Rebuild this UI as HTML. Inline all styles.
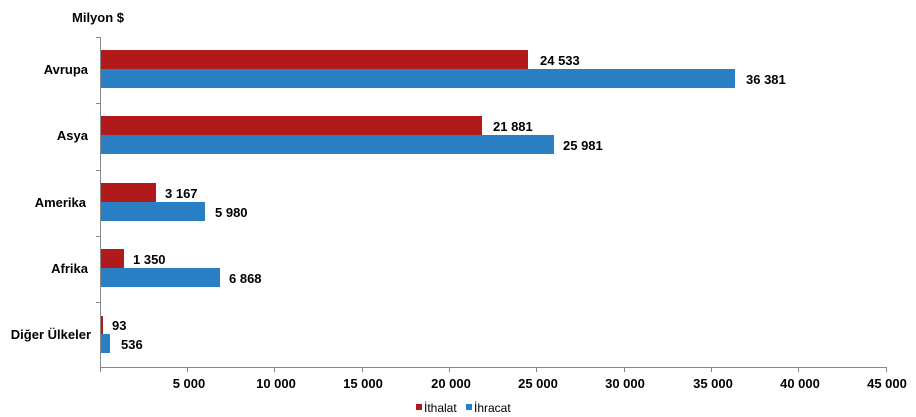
<!DOCTYPE html><html><head><meta charset="utf-8"><style>body{margin:0;background:#fff}svg{display:block}text{font-family:"Liberation Sans",Arial,sans-serif}</style></head><body>
<svg width="916" height="417" xmlns="http://www.w3.org/2000/svg">
<g font-weight="bold" font-size="13" fill="#000">
<text x="72" y="22">Milyon $</text>
<g text-anchor="end">
<text x="88" y="74">Avrupa</text>
<text x="88" y="140">Asya</text>
<text x="86" y="207">Amerika</text>
<text x="88" y="273">Afrika</text>
<text x="91" y="339">Diğer Ülkeler</text>
</g></g>
<g stroke="#888" stroke-width="1">
<line x1="100.5" y1="37" x2="100.5" y2="372"/>
<line x1="100" y1="367.5" x2="887" y2="367.5"/>
<line x1="96" y1="37.5" x2="100" y2="37.5"/>
<line x1="96" y1="103.5" x2="100" y2="103.5"/>
<line x1="96" y1="170.5" x2="100" y2="170.5"/>
<line x1="96" y1="236.5" x2="100" y2="236.5"/>
<line x1="96" y1="302.5" x2="100" y2="302.5"/>
<line x1="187.5" y1="367" x2="187.5" y2="372"/>
<line x1="274.5" y1="367" x2="274.5" y2="372"/>
<line x1="362.5" y1="367" x2="362.5" y2="372"/>
<line x1="449.5" y1="367" x2="449.5" y2="372"/>
<line x1="536.5" y1="367" x2="536.5" y2="372"/>
<line x1="624.5" y1="367" x2="624.5" y2="372"/>
<line x1="711.5" y1="367" x2="711.5" y2="372"/>
<line x1="798.5" y1="367" x2="798.5" y2="372"/>
<line x1="886.5" y1="367" x2="886.5" y2="372"/>
</g>
<g fill="#B01A1A">
<rect x="101" y="50" width="427" height="19"/>
<rect x="101" y="116" width="381" height="19"/>
<rect x="101" y="183" width="55" height="19"/>
<rect x="101" y="249" width="23" height="19"/>
<rect x="101" y="316" width="2" height="18"/>
</g>
<g fill="#2A7FC4">
<rect x="101" y="69" width="634" height="19"/>
<rect x="101" y="135" width="453" height="19"/>
<rect x="101" y="202" width="104" height="19"/>
<rect x="101" y="268" width="119" height="19"/>
<rect x="101" y="334" width="9" height="19"/>
</g>
<g font-weight="bold" font-size="13" fill="#000">
<text x="540" y="65">24 533</text>
<text x="746" y="84">36 381</text>
<text x="493" y="131">21 881</text>
<text x="563" y="150">25 981</text>
<text x="165" y="198">3 167</text>
<text x="215" y="217">5 980</text>
<text x="133" y="264">1 350</text>
<text x="229" y="283">6 868</text>
<text x="112" y="330">93</text>
<text x="121" y="349">536</text>
<g text-anchor="middle">
<text x="189" y="388">5 000</text>
<text x="276" y="388">10 000</text>
<text x="363" y="388">15 000</text>
<text x="451" y="388">20 000</text>
<text x="538" y="388">25 000</text>
<text x="625" y="388">30 000</text>
<text x="713" y="388">35 000</text>
<text x="800" y="388">40 000</text>
<text x="887" y="388">45 000</text>
</g></g>
<rect x="416" y="404" width="6" height="6" fill="#B01A1A"/>
<text x="424" y="412" font-size="12">İthalat</text>
<rect x="466" y="404" width="6" height="6" fill="#2A7FC4"/>
<text x="474" y="412" font-size="12">İhracat</text>
</svg></body></html>
